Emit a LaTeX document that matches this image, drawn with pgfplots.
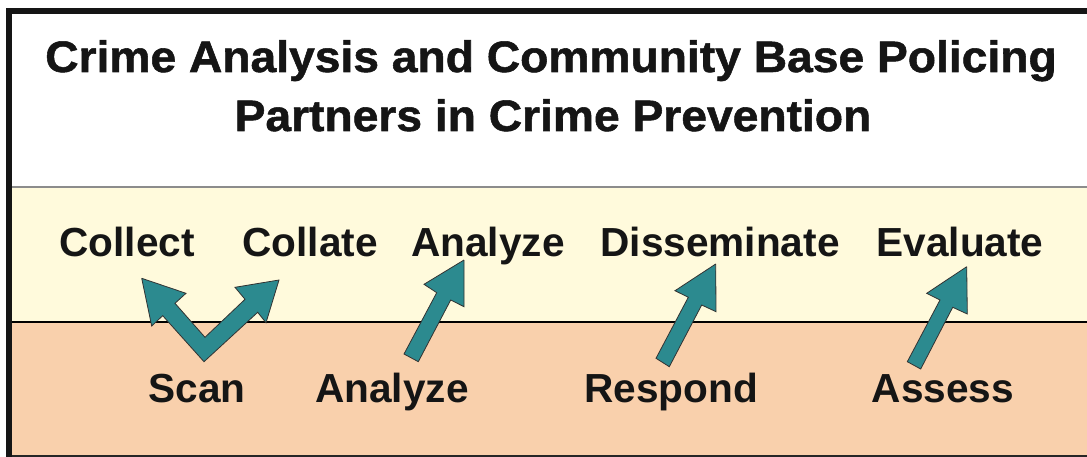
\documentclass[border=0pt]{standalone}
\usepackage{pgfplots}
\pgfplotsset{compat=1.18}
\usepackage{fontspec}
\setmainfont{Liberation Sans}
\newfontfamily\titlefont{Liberation Sans}[FakeStretch=1.05, BoldFeatures={FakeBold=1.2}]
\definecolor{cream}{HTML}{FFFADC}
\definecolor{peach}{HTML}{F9D0AC}
\definecolor{teal}{HTML}{2C8A8F}
\definecolor{txt}{HTML}{151515}
\tikzset{lbl/.style={font=\bfseries\fontsize{40.6}{50}\selectfont, text=txt, inner sep=0pt, anchor=base},
         ttl/.style={font=\titlefont\bfseries\fontsize{44}{58}\selectfont, text=txt, inner sep=0pt, anchor=base}}
\begin{document}
\begin{tikzpicture}
\begin{axis}[
  x=1pt, y=1pt, y dir=reverse,
  xmin=0, xmax=1087, ymin=0, ymax=457,
  hide axis, clip=true,
]
% backgrounds
\addplot[fill=white, draw=none] coordinates {(0,0) (1087,0) (1087,457) (0,457) (0,0)};
\addplot[fill=cream, draw=none] coordinates {(9,187) (1087,187) (1087,322) (9,322) (9,187)};
\addplot[fill=peach, draw=none] coordinates {(9,322) (1087,322) (1087,456) (9,456) (9,322)};
% separator lines
\addplot[color=gray!90, line width=1.2pt] coordinates {(12,187) (1087,187)};
\addplot[color=black, line width=1.2pt] coordinates {(12,322) (1087,322)};
\addplot[color=black!85, line width=1.2pt] coordinates {(12,456) (1087,456)};
% frame
\addplot[color=txt, line width=6pt] coordinates {(9,457) (9,11) (1087,11)};
% arrows
\addplot[fill=teal, draw=black!80, line width=0.8pt] coordinates {
 (141.7,278.3) (186,293.3) (175,303.3) (205,337.3) (245,299.3) (235,287.3)
 (279,280) (266,322.7) (257.7,312.3) (204,361.7) (162.7,315.7) (151.7,326) (141.7,278.3)};
\addplot[fill=teal, draw=black!80, line width=0.8pt] coordinates {
 (464,260) (424,284.3) (436.7,292.7) (404,354) (418.3,361.7) (450.7,300) (464,306.7) (464,260)};
\addplot[fill=teal, draw=black!80, line width=0.8pt] coordinates {
 (715.7,264) (675,290.7) (688.3,297.3) (656,358.3) (669.3,366.7) (701.7,305) (716,311.7) (715.7,264)};
\addplot[fill=teal, draw=black!80, line width=0.8pt] coordinates {
 (966.7,266.7) (926.7,293.3) (940,300) (907.3,361.7) (920.7,369) (952.7,307.3) (967.3,314) (966.7,266.7)};
% title
\node[ttl] at (axis cs:551,72) {Crime Analysis and Community Base Policing};
\node[ttl] at (axis cs:553,131) {Partners in Crime Prevention};
% upper row
\node[lbl] at (axis cs:127,257) {Collect};
\node[lbl] at (axis cs:310,257) {Collate};
\node[lbl] at (axis cs:488,257) {Analyze};
\node[lbl] at (axis cs:720,257) {Disseminate};
\node[lbl] at (axis cs:960,257) {Evaluate};
% lower row
\node[lbl] at (axis cs:197,402) {Scan};
\node[lbl] at (axis cs:392,402) {Analyze};
\node[lbl] at (axis cs:671,402) {Respond};
\node[lbl] at (axis cs:943,402) {Assess};
\end{axis}
\end{tikzpicture}
\end{document}
